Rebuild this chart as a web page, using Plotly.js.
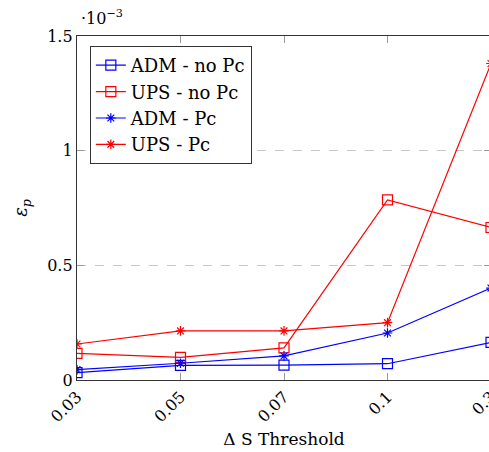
<!DOCTYPE html>
<html>
<head>
<meta charset="utf-8">
<script src="https://cdn.plot.ly/plotly-3.0.1.min.js"></script>
<style>
html,body{margin:0;padding:0;overflow:hidden;background:#fff;width:489px;height:452px;}
#chart{width:520px;height:452px;}
</style>
</head>
<body>
<div id="chart"></div>
<script>
// x categories (thresholds) and y values in units of 1e-3
var thresholds = ["0.03", "0.05", "0.07", "0.1", "0.3"];
var admNoPc = [0.032, 0.064, 0.065, 0.071, 0.164];
var upsNoPc = [0.116, 0.099, 0.140, 0.785, 0.665];
var admPc   = [0.045, 0.073, 0.105, 0.205, 0.401];
var upsPc   = [0.157, 0.214, 0.214, 0.250, 1.380];
var yTickVals = [0, 0.5, 1, 1.5];
var yTickText = ["0", "0.5", "1", "1.5"];

var xIdx = thresholds.map(function(_, i){ return i; });
var FONT = "DejaVu Serif, Liberation Serif, serif";

function tr(name, y, color, symbol, size) {
  return {
    x: xIdx, y: y, name: name, type: "scatter", mode: "lines+markers",
    line: {color: color, width: 1.2},
    marker: {symbol: symbol, size: size, color: color,
             line: {color: color, width: 1.2}}
  };
}

var data = [
  tr("ADM - no Pc", admNoPc, "#0000ff", "square-open", 10),
  tr("UPS - no Pc", upsNoPc, "#ff0000", "square-open", 10),
  tr("ADM - Pc", admPc, "#0000ff", "asterisk-open", 8),
  tr("UPS - Pc", upsPc, "#ff0000", "asterisk-open", 8)
];

var layout = {
  width: 520, height: 452,
  margin: {l: 77, r: 29, t: 36, b: 72},
  paper_bgcolor: "#fff", plot_bgcolor: "#fff",
  font: {family: FONT, size: 16, color: "#000"},
  showlegend: true,
  legend: {
    x: 0.031, y: 0.971, xanchor: "left", yanchor: "top",
    bordercolor: "#333", borderwidth: 1, bgcolor: "#fff",
    font: {family: FONT, size: 18, color: "#000"},
    tracegroupgap: 0
  },
  xaxis: {
    range: [0, 4],
    tickmode: "array", tickvals: xIdx, ticktext: thresholds,
    tickangle: -45,
    ticks: "inside", ticklen: 7, tickcolor: "#999", tickwidth: 1,
    showline: true, linecolor: "#333", linewidth: 1.2, mirror: "ticks",
    showgrid: false, zeroline: false,
    tickfont: {family: FONT, size: 16},
    title: {text: "Δ S Threshold", font: {family: FONT, size: 17}, standoff: 8}
  },
  yaxis: {
    range: [0, 1.5],
    tickmode: "array", tickvals: yTickVals, ticktext: yTickText,
    ticks: "inside", ticklen: 7, tickcolor: "#999", tickwidth: 1,
    showline: true, linecolor: "#333", linewidth: 1.2, mirror: "ticks",
    showgrid: true, gridcolor: "#c8c8c8", griddash: "dash", gridwidth: 1,
    zeroline: false,
    tickfont: {family: FONT, size: 16},
    title: {text: "<i>ε</i><sub><i>p</i></sub>", font: {family: FONT, size: 18}, standoff: 14}
  },
  annotations: [{
    xref: "paper", yref: "paper", x: 0, y: 1, xanchor: "left", yanchor: "bottom",
    xshift: 2, yshift: 6,
    text: "·10<sup>−3</sup>", showarrow: false,
    font: {family: FONT, size: 16, color: "#000"}
  }]
};

Plotly.newPlot("chart", data, layout, {displayModeBar: false, staticPlot: true});
</script>
</body>
</html>
